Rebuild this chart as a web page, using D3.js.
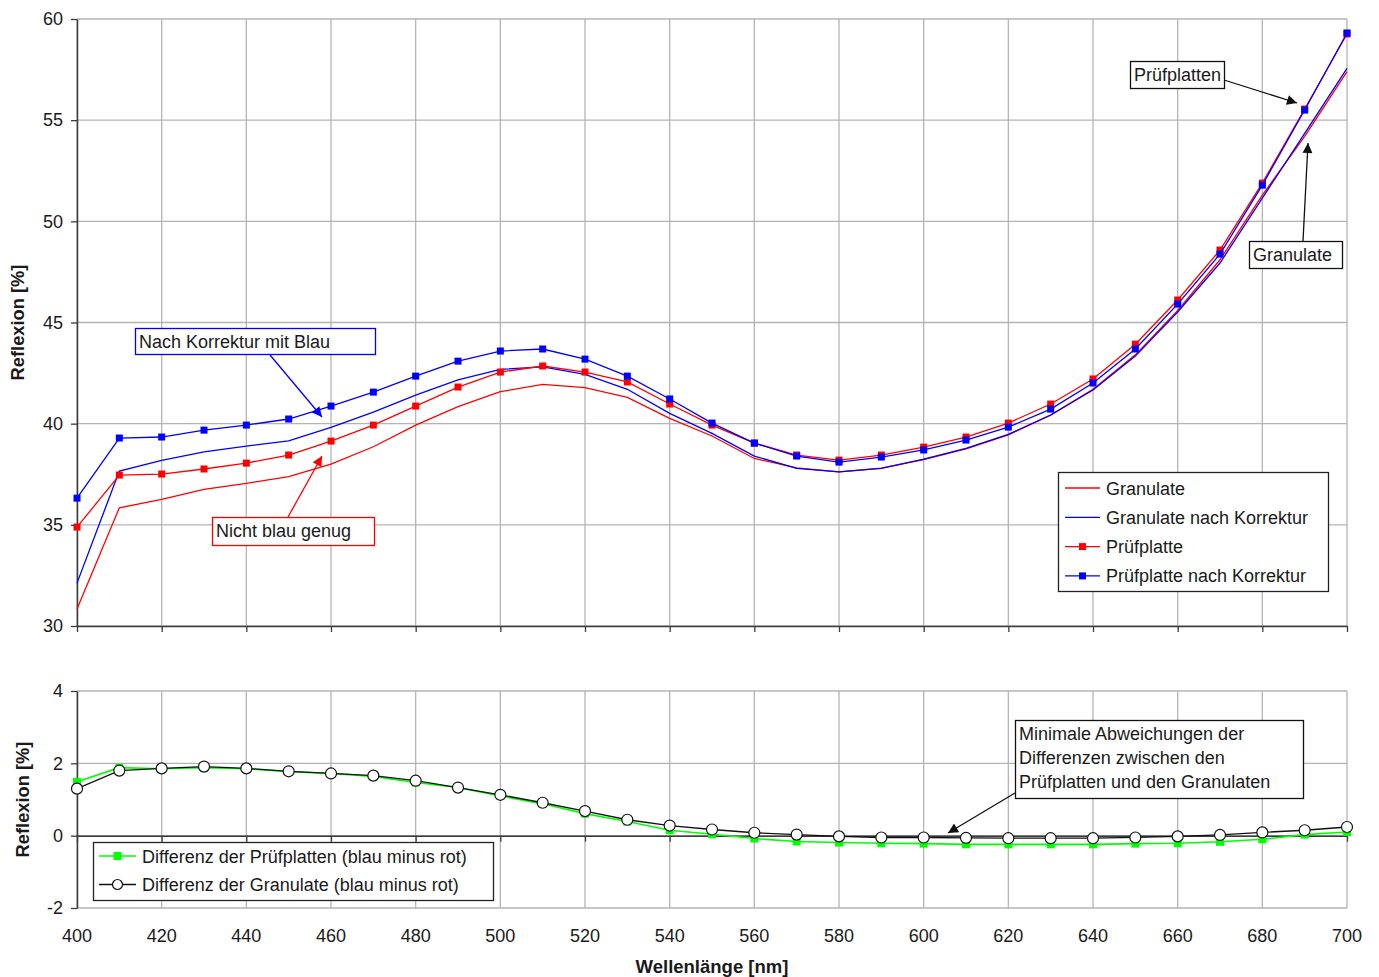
<!DOCTYPE html>
<html>
<head>
<meta charset="utf-8">
<script src="https://cdn.jsdelivr.net/npm/d3@7"></script>
<style>
  html, body { margin: 0; padding: 0; background: #fff; }
  svg { display: block; font-family: "Liberation Sans", Arial, sans-serif; }
</style>
</head>
<body>
<svg id="chart" width="1379" height="977"></svg>
<script>
// Wellenlängen [nm]
const wavelengths = [400, 410, 420, 430, 440, 450, 460, 470, 480, 490, 500,
  510, 520, 530, 540, 550, 560, 570, 580, 590, 600,
  610, 620, 630, 640, 650, 660, 670, 680, 690, 700];

// Reflexion [%] der vier Messreihen
const granulate = [30.84, 35.84, 36.26, 36.75, 37.05, 37.38, 38.00, 38.86, 39.93, 40.84, 41.58,
  41.94, 41.78, 41.30, 40.26, 39.39, 38.28, 37.82, 37.62, 37.80, 38.22,
  38.75, 39.45, 40.42, 41.70, 43.40, 45.60, 48.10, 51.30, 54.20, 57.40];
const granulateKorr = [32.12, 37.66, 38.19, 38.61, 38.89, 39.15, 39.82, 40.57, 41.41, 42.16, 42.68,
  42.81, 42.44, 41.70, 40.51, 39.52, 38.40, 37.79, 37.62, 37.79, 38.25,
  38.78, 39.47, 40.43, 41.66, 43.34, 45.52, 47.94, 51.15, 54.35, 57.56];
const pruefplatte = [34.89, 37.46, 37.51, 37.76, 38.05, 38.45, 39.14, 39.93, 40.87, 41.81, 42.55,
  42.85, 42.55, 42.06, 40.97, 39.93, 39.04, 38.45, 38.20, 38.45, 38.84,
  39.34, 40.03, 40.97, 42.21, 43.93, 46.11, 48.58, 51.89, 55.55, 59.26];
const pruefplatteKorr = [36.32, 39.29, 39.34, 39.68, 39.93, 40.23, 40.87, 41.56, 42.35, 43.09, 43.59,
  43.69, 43.19, 42.35, 41.22, 40.03, 39.04, 38.40, 38.10, 38.35, 38.70,
  39.19, 39.83, 40.72, 42.01, 43.69, 45.91, 48.38, 51.79, 55.50, 59.31];

// Differenzen (blau minus rot)
const diffPruefplatten = [1.49, 1.88, 1.85, 1.88, 1.85, 1.77, 1.72, 1.64, 1.47, 1.33, 1.10,
  0.88, 0.61, 0.39, 0.15, 0.04, -0.08, -0.16, -0.19, -0.21, -0.22,
  -0.24, -0.24, -0.24, -0.24, -0.22, -0.21, -0.17, -0.10, 0.03, 0.10];
const diffGranulate = [1.30, 1.80, 1.86, 1.91, 1.86, 1.78, 1.72, 1.66, 1.52, 1.33, 1.13,
  0.91, 0.68, 0.44, 0.28, 0.17, 0.08, 0.03, -0.02, -0.05, -0.05,
  -0.06, -0.07, -0.07, -0.07, -0.05, -0.02, 0.02, 0.09, 0.15, 0.24];

const topTicks = [30, 35, 40, 45, 50, 55, 60];
const bottomTicks = [-2, 0, 2, 4];
const xTicks = [400, 420, 440, 460, 480, 500, 520, 540, 560, 580, 600, 620, 640, 660, 680, 700];

const RED = "#ff0000", BLUE = "#0000ff", GREEN = "#00ff00", GRID = "#b4b4b4", AXIS = "#3c3c3c", TXT = "#1a1a1a";
const FS = "18px";

const svg = d3.select("#chart");

const x = d3.scaleLinear().domain([400, 700]).range([77, 1347]);
const yTop = d3.scaleLinear().domain([30, 60]).range([626, 19]);
const yBot = d3.scaleLinear().domain([-2, 4]).range([908, 691]);

// Ganzzahlige Beschriftung mit einfachem Bindestrich als Minus
const intFmt = d => String(d);

// Pfeilspitzen
const defs = svg.append("defs");
function arrowHead(id, color) {
  defs.append("marker").attr("id", id)
    .attr("viewBox", "0 0 10 10").attr("refX", 10).attr("refY", 5)
    .attr("markerUnits", "userSpaceOnUse")
    .attr("markerWidth", 13).attr("markerHeight", 10).attr("orient", "auto")
    .append("path").attr("d", "M0,0 L10,5 L0,10 Z").attr("fill", color);
}
arrowHead("ahBlue", BLUE);
arrowHead("ahRed", RED);
arrowHead("ahBlack", "#111");

function drawPanel(y, ticks, zeroAxis) {
  const g = svg.append("g");
  // Gitternetz
  g.append("g").selectAll("line").data(xTicks).join("line")
    .attr("x1", d => x(d)).attr("x2", d => x(d))
    .attr("y1", y.range()[1]).attr("y2", y.range()[0])
    .attr("stroke", GRID).attr("stroke-width", 1.3);
  g.append("g").selectAll("line").data(ticks).join("line")
    .attr("x1", x(400)).attr("x2", x(700))
    .attr("y1", d => y(d)).attr("y2", d => y(d))
    .attr("stroke", GRID).attr("stroke-width", 1.3);
  // y-Achse
  const ya = g.append("g").attr("transform", `translate(${x(400)},0)`)
    .call(d3.axisLeft(y).tickValues(ticks).tickFormat(intFmt).tickSize(6).tickSizeOuter(0).tickPadding(8));
  ya.select(".domain").attr("stroke", AXIS).attr("stroke-width", 1.5);
  ya.selectAll(".tick line").attr("stroke", AXIS).attr("stroke-width", 1.3);
  ya.selectAll(".tick text").attr("fill", TXT).style("font-size", FS)
    .style("font-family", "'Liberation Sans', Arial, sans-serif");
  // x-Achse
  const xa = g.append("g").attr("transform", `translate(0,${y(zeroAxis)})`)
    .call(d3.axisBottom(x).tickValues(xTicks).tickSize(6).tickSizeOuter(0).tickFormat(""));
  xa.select(".domain").attr("stroke", AXIS).attr("stroke-width", 1.5);
  xa.selectAll(".tick line").attr("stroke", AXIS).attr("stroke-width", 1.3);
  return g;
}

drawPanel(yTop, topTicks, 30);
drawPanel(yBot, bottomTicks, 0);

// x-Beschriftung unter dem unteren Diagramm
svg.append("g").selectAll("text").data(xTicks).join("text")
  .attr("x", d => x(d)).attr("y", 942)
  .attr("text-anchor", "middle").attr("fill", TXT)
  .style("font-size", FS).text(d => d);

// Achsentitel
svg.append("text").attr("x", 712).attr("y", 973).attr("text-anchor", "middle")
  .attr("fill", TXT).style("font-size", "18.5px").style("font-weight", "bold")
  .text("Wellenlänge [nm]");
svg.append("text").attr("transform", `translate(24,${(19 + 626) / 2}) rotate(-90)`)
  .attr("text-anchor", "middle").attr("fill", TXT)
  .style("font-size", "18.3px").style("font-weight", "bold").text("Reflexion [%]");
svg.append("text").attr("transform", `translate(29,${(691 + 908) / 2}) rotate(-90)`)
  .attr("text-anchor", "middle").attr("fill", TXT)
  .style("font-size", "18.3px").style("font-weight", "bold").text("Reflexion [%]");

// Kurven
function series(y, values, color, width) {
  const line = d3.line().x((d, i) => x(wavelengths[i])).y(d => y(d));
  return svg.append("path").datum(values).attr("d", line)
    .attr("fill", "none").attr("stroke", color).attr("stroke-width", width);
}
function squares(y, values, color, size) {
  svg.append("g").selectAll("rect").data(values).join("rect")
    .attr("x", (d, i) => x(wavelengths[i]) - size / 2)
    .attr("y", d => y(d) - size / 2)
    .attr("width", size).attr("height", size).attr("fill", color);
}

series(yTop, granulate, RED, 1.3);
series(yTop, granulateKorr, BLUE, 1.3);
series(yTop, pruefplatte, RED, 1.3);
squares(yTop, pruefplatte, RED, 7);
series(yTop, pruefplatteKorr, BLUE, 1.3);
squares(yTop, pruefplatteKorr, BLUE, 7);

series(yBot, diffPruefplatten, GREEN, 1.6);
squares(yBot, diffPruefplatten, GREEN, 8);
series(yBot, diffGranulate, "#111", 1.3);
svg.append("g").selectAll("circle").data(diffGranulate).join("circle")
  .attr("cx", (d, i) => x(wavelengths[i])).attr("cy", d => yBot(d)).attr("r", 5.5)
  .attr("fill", "#fff").attr("stroke", "#111").attr("stroke-width", 1.2);

// Legende oben
const legTop = [
  { label: "Granulate", color: RED, marker: false },
  { label: "Granulate nach Korrektur", color: BLUE, marker: false },
  { label: "Prüfplatte", color: RED, marker: true },
  { label: "Prüfplatte nach Korrektur", color: BLUE, marker: true }
];
const lt = svg.append("g");
lt.append("rect").attr("x", 1058.5).attr("y", 472.5).attr("width", 270).attr("height", 119)
  .attr("fill", "#fff").attr("stroke", "#222").attr("stroke-width", 1.3);
legTop.forEach((d, i) => {
  const cy = 488 + i * 29.3;
  lt.append("line").attr("x1", 1065).attr("x2", 1100).attr("y1", cy).attr("y2", cy)
    .attr("stroke", d.color).attr("stroke-width", 1.3);
  if (d.marker) lt.append("rect").attr("x", 1079).attr("y", cy - 3.5).attr("width", 7).attr("height", 7).attr("fill", d.color);
  lt.append("text").attr("x", 1106).attr("y", cy + 6.5).attr("fill", TXT)
    .style("font-size", FS).text(d.label);
});

// Legende unten
const legBot = [
  { label: "Differenz der Prüfplatten (blau minus rot)", color: GREEN, marker: "square" },
  { label: "Differenz der Granulate (blau minus rot)", color: "#111", marker: "circle" }
];
const lb = svg.append("g");
lb.append("rect").attr("x", 93.5).attr("y", 842.5).attr("width", 400).attr("height", 58)
  .attr("fill", "#fff").attr("stroke", "#222").attr("stroke-width", 1.3);
legBot.forEach((d, i) => {
  const cy = 856 + i * 28.5;
  lb.append("line").attr("x1", 99).attr("x2", 136).attr("y1", cy).attr("y2", cy)
    .attr("stroke", d.color).attr("stroke-width", 1.4);
  if (d.marker === "square") lb.append("rect").attr("x", 113.5).attr("y", cy - 4).attr("width", 8).attr("height", 8).attr("fill", d.color);
  else lb.append("circle").attr("cx", 117.5).attr("cy", cy).attr("r", 5).attr("fill", "#fff").attr("stroke", "#111").attr("stroke-width", 1.2);
  lb.append("text").attr("x", 142).attr("y", cy + 6.5).attr("fill", TXT)
    .style("font-size", FS).text(d.label);
});

// Beschriftungen mit Pfeilen
function callout(box, lines, color, arrow, markerId) {
  const g = svg.append("g");
  g.append("line").attr("x1", arrow[0]).attr("y1", arrow[1]).attr("x2", arrow[2]).attr("y2", arrow[3])
    .attr("stroke", color).attr("stroke-width", 1.3).attr("marker-end", `url(#${markerId})`);
  g.append("rect").attr("x", box[0] + 0.5).attr("y", box[1] + 0.5).attr("width", box[2]).attr("height", box[3])
    .attr("fill", "#fff").attr("stroke", color).attr("stroke-width", 1.3);
  lines.forEach((t, i) => {
    g.append("text").attr("x", box[0] + 4).attr("y", box[1] + 20 + i * 24)
      .attr("fill", TXT).style("font-size", FS).text(t);
  });
}
callout([135, 328, 240, 26], ["Nach Korrektur mit Blau"], BLUE, [270, 355, 322, 417], "ahBlue");
callout([212, 517, 162, 28], ["Nicht blau genug"], RED, [288, 517, 322, 456], "ahRed");
callout([1130, 61, 94, 27], ["Prüfplatten"], "#111", [1224, 80, 1297, 103], "ahBlack");
callout([1249, 241, 93, 27], ["Granulate"], "#111", [1303, 241, 1308, 143], "ahBlack");
callout([1015, 720, 288, 78], ["Minimale Abweichungen der", "Differenzen zwischen den", "Prüfplatten und den Granulaten"], "#111", [1015, 793, 948, 833], "ahBlack");
</script>
</body>
</html>
